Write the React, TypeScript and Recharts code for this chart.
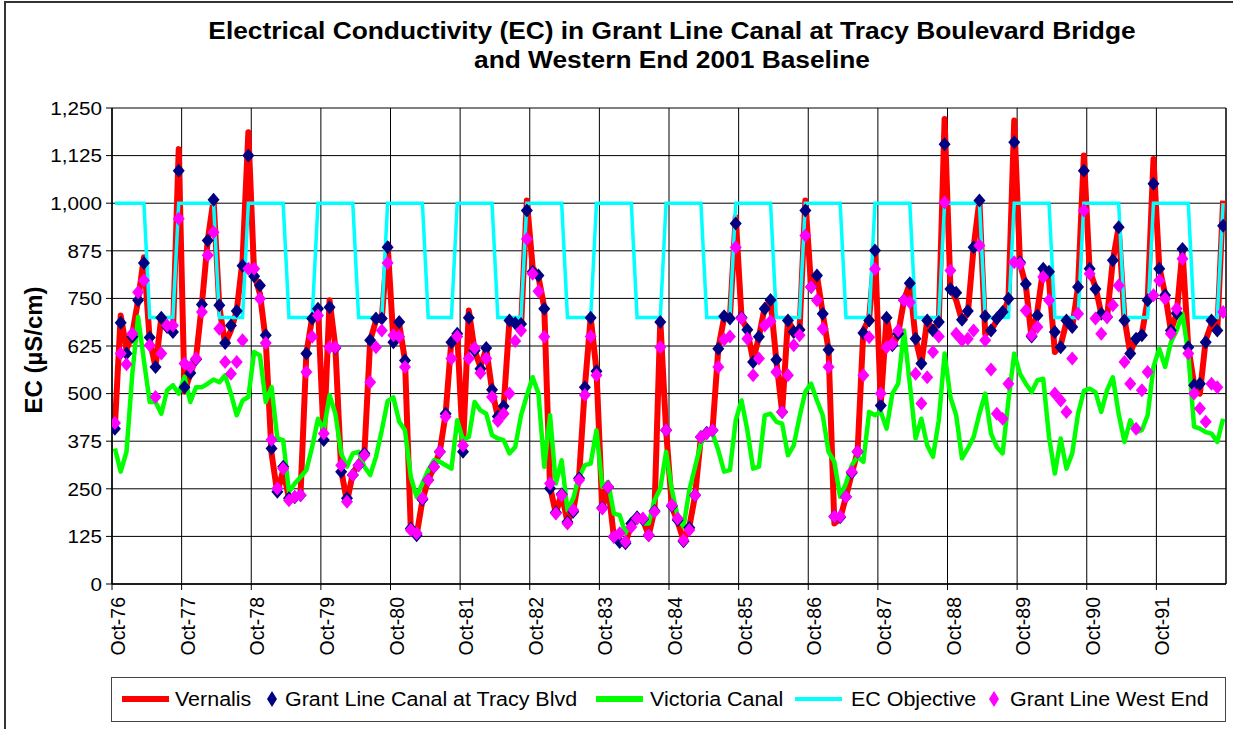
import React from 'react';
import { ComposedChart, Line, XAxis, YAxis, CartesianGrid, ReferenceLine } from 'recharts';

const FONT = '"Liberation Sans", Arial, Helvetica, sans-serif';

// Category tick labels (one every 12 months)
const yearLabels = ['Oct-76', 'Oct-77', 'Oct-78', 'Oct-79', 'Oct-80', 'Oct-81', 'Oct-82', 'Oct-83',
  'Oct-84', 'Oct-85', 'Oct-86', 'Oct-87', 'Oct-88', 'Oct-89', 'Oct-90', 'Oct-91'];

// Monthly values, Oct-76 .. Sep-92 (one row per water year, Oct..Sep)
const vernalis = [
  415, 705, 615, 657, 745, 858, 640, 570, 700, 675, 657, 1142,
  505, 552, 596, 736, 902, 1010, 727, 631, 666, 718, 850, 1186,
  815, 762, 640, 343, 238, 299, 225, 225, 238, 605, 700, 727,
  378, 745, 622, 299, 216, 290, 316, 343, 640, 692, 697, 893,
  640, 683, 587, 142, 128, 220, 273, 308, 347, 447, 640, 657,
  360, 718, 613, 570, 618, 509, 439, 465, 692, 683, 675, 1007,
  832, 806, 727, 255, 185, 238, 163, 194, 281, 517, 700, 561,
  198, 255, 124, 107, 107, 159, 177, 168, 128, 194, 692, 404,
  203, 163, 115, 150, 233, 386, 399, 404, 618, 700, 700, 963,
  700, 666, 587, 649, 727, 745, 587, 452, 692, 666, 666, 1007,
  780, 810, 710, 615, 159, 172, 229, 290, 347, 666, 697, 879,
  474, 700, 622, 657, 745, 789, 644, 579, 692, 666, 688, 1221,
  780, 745, 692, 710, 884, 1007, 657, 666, 692, 710, 745, 1217,
  841, 784, 644, 718, 828, 797, 609, 627, 688, 675, 780, 1125,
  823, 780, 710, 700, 850, 937, 697, 605, 649, 657, 745, 1116,
  832, 762, 666, 710, 876, 622, 526, 500, 640, 683, 666, 1007,
];

const tracyBlvd = [
  408, 686, 605, 649, 745, 843, 647, 570, 699, 675, 662, 1085,
  517, 554, 590, 734, 902, 1009, 732, 633, 679, 717, 836, 1125,
  808, 784, 653, 356, 242, 308, 225, 228, 233, 605, 697, 723,
  378, 727, 620, 295, 225, 286, 312, 343, 640, 697, 697, 884,
  635, 688, 587, 146, 128, 222, 273, 308, 347, 447, 635, 657,
  347, 699, 613, 565, 620, 510, 440, 467, 692, 685, 683, 981,
  820, 810, 723, 251, 188, 236, 163, 190, 278, 517, 699, 559,
  200, 255, 124, 110, 107, 159, 175, 170, 128, 192, 688, 404,
  205, 168, 112, 148, 233, 386, 397, 404, 618, 703, 697, 947,
  700, 668, 583, 649, 723, 746, 589, 452, 692, 662, 668, 981,
  780, 810, 710, 615, 177, 175, 229, 292, 347, 659, 692, 876,
  469, 699, 627, 657, 745, 790, 644, 579, 692, 666, 688, 1155,
  775, 765, 694, 717, 884, 1007, 703, 666, 697, 714, 749, 1160,
  845, 788, 650, 705, 828, 820, 662, 622, 692, 675, 780, 1085,
  828, 775, 710, 701, 850, 937, 692, 605, 644, 653, 745, 1051,
  828, 758, 666, 711, 880, 622, 522, 526, 635, 692, 666, 941,
];

const victoriaCanal = [
  356, 295, 347, 552, 701, 587, 478, 478, 447, 509, 522, 500,
  544, 478, 517, 517, 526, 537, 530, 548, 500, 443, 482, 491,
  609, 600, 478, 517, 382, 378, 242, 264, 281, 299, 360, 434,
  404, 496, 447, 343, 308, 343, 347, 308, 286, 334, 404, 480,
  490, 426, 404, 281, 229, 264, 299, 325, 321, 312, 303, 430,
  378, 386, 478, 456, 447, 391, 382, 378, 343, 360, 443, 495,
  543, 500, 308, 443, 264, 325, 194, 225, 281, 312, 316, 404,
  255, 268, 185, 181, 133, 168, 181, 159, 159, 220, 251, 347,
  246, 177, 150, 246, 308, 369, 395, 395, 351, 295, 299, 430,
  482, 404, 303, 308, 443, 447, 426, 421, 338, 364, 439, 505,
  526, 482, 443, 347, 321, 229, 264, 312, 334, 321, 452, 443,
  452, 408, 500, 526, 666, 526, 382, 434, 364, 334, 430, 605,
  491, 443, 330, 356, 386, 447, 500, 395, 360, 343, 482, 605,
  552, 526, 504, 535, 539, 386, 290, 382, 303, 343, 447, 507,
  513, 504, 452, 509, 543, 447, 373, 430, 399, 404, 443, 570,
  618, 570, 635, 666, 710, 605, 413, 408, 399, 395, 373, 434,
];

const ecObjective = [
  1000, 1000, 1000, 1000, 1000, 1000, 700, 700, 700, 700, 700, 1000,
  1000, 1000, 1000, 1000, 1000, 1000, 700, 700, 700, 700, 700, 1000,
  1000, 1000, 1000, 1000, 1000, 1000, 700, 700, 700, 700, 700, 1000,
  1000, 1000, 1000, 1000, 1000, 1000, 700, 700, 700, 700, 700, 1000,
  1000, 1000, 1000, 1000, 1000, 1000, 700, 700, 700, 700, 700, 1000,
  1000, 1000, 1000, 1000, 1000, 1000, 700, 700, 700, 700, 700, 1000,
  1000, 1000, 1000, 1000, 1000, 1000, 700, 700, 700, 700, 700, 1000,
  1000, 1000, 1000, 1000, 1000, 1000, 700, 700, 700, 700, 700, 1000,
  1000, 1000, 1000, 1000, 1000, 1000, 700, 700, 700, 700, 700, 1000,
  1000, 1000, 1000, 1000, 1000, 1000, 700, 700, 700, 700, 700, 1000,
  1000, 1000, 1000, 1000, 1000, 1000, 700, 700, 700, 700, 700, 1000,
  1000, 1000, 1000, 1000, 1000, 1000, 700, 700, 700, 700, 700, 1000,
  1000, 1000, 1000, 1000, 1000, 1000, 700, 700, 700, 700, 700, 1000,
  1000, 1000, 1000, 1000, 1000, 1000, 700, 700, 700, 700, 700, 1000,
  1000, 1000, 1000, 1000, 1000, 1000, 700, 700, 700, 700, 700, 1000,
  1000, 1000, 1000, 1000, 1000, 1000, 700, 700, 700, 700, 700, 1000,
];

const westEnd = [
  423, 605, 577, 657, 766, 797, 627, 491, 605, 679, 679, 959,
  579, 570, 592, 714, 863, 924, 670, 583, 552, 583, 640, 828,
  828, 749, 633, 379, 251, 303, 220, 229, 233, 557, 649, 705,
  395, 622, 622, 312, 216, 286, 312, 338, 530, 622, 666, 843,
  653, 650, 570, 142, 133, 225, 273, 308, 347, 439, 592, 650,
  364, 592, 620, 554, 592, 491, 428, 447, 500, 638, 666, 906,
  815, 769, 649, 264, 185, 233, 159, 194, 273, 496, 650, 548,
  198, 255, 124, 133, 111, 150, 172, 172, 128, 190, 622, 404,
  207, 172, 115, 142, 233, 386, 395, 404, 570, 642, 650, 884,
  697, 644, 548, 592, 679, 690, 557, 452, 548, 627, 653, 915,
  780, 745, 670, 570, 177, 177, 229, 295, 347, 548, 648, 827,
  500, 622, 631, 666, 745, 740, 552, 474, 543, 609, 650, 1002,
  823, 657, 640, 644, 666, 889, 640, 563, 447, 434, 526, 845,
  841, 718, 653, 675, 806, 745, 500, 482, 452, 592, 710, 981,
  815, 697, 657, 701, 732, 784, 583, 526, 408, 509, 557, 758,
  797, 749, 657, 723, 854, 605, 500, 461, 426, 526, 517, 714,
];

const yTicks = [0, 125, 250, 375, 500, 625, 750, 875, 1000, 1125, 1250];

const seriesInfo = [
  { key: 'vernalis', name: 'Vernalis', color: '#FF0000', kind: 'line', width: 6 },
  { key: 'tracy', name: 'Grant Line Canal at Tracy Blvd', color: '#000080', kind: 'diamond', width: 0 },
  { key: 'victoria', name: 'Victoria Canal', color: '#00FF00', kind: 'line', width: 6 },
  { key: 'objective', name: 'EC Objective', color: '#00FFFF', kind: 'line', width: 4 },
  { key: 'westEnd', name: 'Grant Line West End', color: '#FF00FF', kind: 'diamond', width: 0 },
];

const data = vernalis.map((v, i) => ({
  x: i + 0.5,
  vernalis: v,
  tracy: tracyBlvd[i],
  victoria: victoriaCanal[i],
  objective: ecObjective[i],
  westEnd: westEnd[i],
}));

const xTicks = yearLabels.map((_, k) => k * 12);

const PLOT_BOTTOM = 584;

function makeDiamond(color: string, hw: number, hh: number) {
  return (props: any) => {
    const { cx, cy, index } = props;
    if (typeof cx !== 'number' || typeof cy !== 'number' || isNaN(cy)) {
      return <g key={`e-${color}-${index}`} />;
    }
    return (
      <polygon
        key={`d-${color}-${index}`}
        points={`${cx},${cy - hh} ${cx + hw},${cy} ${cx},${cy + hh} ${cx - hw},${cy}`}
        fill={color}
      />
    );
  };
}

const navyDot = makeDiamond('#000080', 6, 7);
const magentaDot = makeDiamond('#FF00FF', 6, 7);

const XTick = (props: any) => {
  const { x, payload } = props;
  const label = yearLabels[Math.round(payload.value / 12)];
  const ax = x + 13;
  const ay = PLOT_BOTTOM + 13;
  return (
    <text
      x={ax}
      y={ay}
      transform={`rotate(-90, ${ax}, ${ay})`}
      textAnchor="end"
      fontSize={19.5}
      fontFamily={FONT}
      fill="#000"
    >
      {label}
    </text>
  );
};

const YTick = (props: any) => {
  const { y, payload } = props;
  return (
    <text
      x={0}
      y={0}
      dy="0.36em"
      transform={`translate(102, ${y}) scale(1.1, 1)`}
      textAnchor="end"
      fontSize={18.8}
      fontFamily={FONT}
      fill="#000"
    >
      {Number(payload.value).toLocaleString('en-US')}
    </text>
  );
};

const legendPos: Record<string, { sample: number; text: number }> = {
  vernalis: { sample: 122, text: 175 },
  tracy: { sample: 272, text: 285 },
  victoria: { sample: 596, text: 650 },
  objective: { sample: 795, text: 851 },
  westEnd: { sample: 994, text: 1010 },
};

const LEGEND_CY = 699;

export default function App() {
  return (
    <div
      style={{
        position: 'absolute',
        left: 0,
        top: 0,
        width: 1233,
        height: 729,
        overflow: 'hidden',
        background: '#fff',
        fontFamily: FONT,
      }}
    >
      <div
        style={{
          position: 'absolute',
          left: 4,
          top: 1,
          width: 1300,
          height: 800,
          border: '2px solid #333',
          boxSizing: 'border-box',
        }}
      />
      <div
        style={{
          position: 'absolute',
          left: 0,
          top: 17,
          width: 1344,
          textAlign: 'center',
          fontWeight: 'bold',
          fontSize: 23.5,
          lineHeight: '29px',
          color: '#000',
        }}
      >
        <span style={{ display: 'inline-block', transform: 'scaleX(1.12)' }}>
          Electrical Conductivity (EC) in Grant Line Canal at Tracy Boulevard Bridge
          <br />
          and Western End 2001 Baseline
        </span>
      </div>
      <div
        style={{
          position: 'absolute',
          left: 33.5 - 100,
          top: 350 - 15,
          width: 200,
          height: 30,
          lineHeight: '30px',
          textAlign: 'center',
          fontWeight: 'bold',
          fontSize: 24,
          transform: 'rotate(-90deg)',
          color: '#000',
        }}
      >
        EC (µS/cm)
      </div>

      <div style={{ position: 'absolute', left: 0, top: 0 }}>
        <ComposedChart
          width={1233}
          height={729}
          data={data}
          margin={{ top: 108, right: 7, bottom: 65, left: 12 }}
        >
          <CartesianGrid stroke="#000" strokeWidth={1} />
          <XAxis
            type="number"
            dataKey="x"
            domain={[0, 192]}
            ticks={xTicks}
            interval={0}
            tick={<XTick />}
            tickSize={6}
            height={80}
            axisLine={{ stroke: '#000', strokeWidth: 1.5 }}
            tickLine={{ stroke: '#000' }}
            allowDataOverflow
          />
          <YAxis
            type="number"
            domain={[0, 1250]}
            ticks={yTicks}
            interval={0}
            width={100}
            tick={<YTick />}
            tickSize={6}
            axisLine={{ stroke: '#000', strokeWidth: 1.5 }}
            tickLine={{ stroke: '#000' }}
            allowDataOverflow
          />
          <ReferenceLine x={192} stroke="#000" strokeWidth={1} />
          <Line
            dataKey="vernalis"
            name="Vernalis"
            stroke="#FF0000"
            strokeWidth={6}
            strokeLinejoin="round"
            dot={false}
            activeDot={false}
            isAnimationActive={false}
          />
          <Line
            dataKey="tracy"
            name="Grant Line Canal at Tracy Blvd"
            stroke="none"
            dot={navyDot}
            activeDot={false}
            isAnimationActive={false}
          />
          <Line
            dataKey="victoria"
            name="Victoria Canal"
            stroke="#00FF00"
            strokeWidth={4.5}
            strokeLinejoin="round"
            dot={false}
            activeDot={false}
            isAnimationActive={false}
          />
          <Line
            dataKey="objective"
            name="EC Objective"
            stroke="#00FFFF"
            strokeWidth={3.5}
            dot={false}
            activeDot={false}
            isAnimationActive={false}
          />
          <Line
            dataKey="westEnd"
            name="Grant Line West End"
            stroke="none"
            dot={magentaDot}
            activeDot={false}
            isAnimationActive={false}
          />
        </ComposedChart>
      </div>

      <div
        style={{
          position: 'absolute',
          left: 111,
          top: 677,
          width: 1115,
          height: 45,
          border: '1.5px solid #444',
          boxSizing: 'border-box',
          background: '#fff',
        }}
      />
      {seriesInfo.map((s) => {
        const p = legendPos[s.key];
        return (
          <React.Fragment key={s.key}>
            {s.kind === 'line' ? (
              <div
                style={{
                  position: 'absolute',
                  left: p.sample,
                  top: LEGEND_CY - s.width / 2,
                  width: 47,
                  height: s.width,
                  background: s.color,
                }}
              />
            ) : (
              <svg
                width={14}
                height={18}
                style={{ position: 'absolute', left: p.sample - 7, top: LEGEND_CY - 9 }}
              >
                <polygon points="7,1 12,9 7,17 2,9" fill={s.color} />
              </svg>
            )}
            <div
              style={{
                position: 'absolute',
                left: p.text,
                top: LEGEND_CY - 12,
                height: 24,
                lineHeight: '24px',
                fontSize: 19.5,
                whiteSpace: 'nowrap',
                transform: 'scaleX(1.1)',
                transformOrigin: 'left center',
                color: '#000',
              }}
            >
              {s.name}
            </div>
          </React.Fragment>
        );
      })}
    </div>
  );
}
